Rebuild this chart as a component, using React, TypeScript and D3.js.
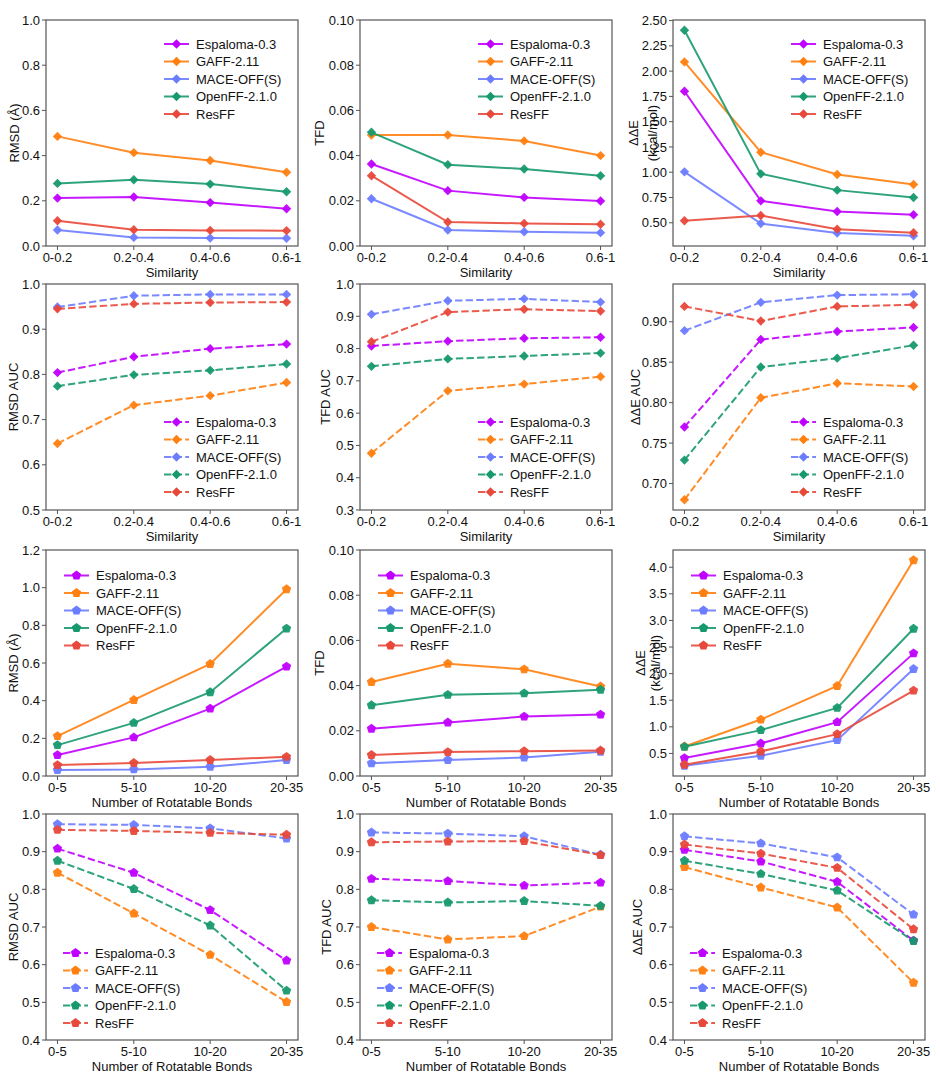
import React, { useRef, useEffect } from 'react';
import * as d3 from 'd3';

const models = ["Espaloma-0.3", "GAFF-2.11", "MACE-OFF(S)", "OpenFF-2.1.0", "ResFF"];
const modelColors = ["#c000ff", "#ff8010", "#6b7cff", "#17996e", "#e8483a"];

const similarityBins = ["0-0.2", "0.2-0.4", "0.4-0.6", "0.6-1"];
const rotatableBins = ["0-5", "5-10", "10-20", "20-35"];

// each table: one row per model, same order as `models`
const rmsdBySim = [
  [0.212, 0.217, 0.192, 0.165],
  [0.485, 0.413, 0.378, 0.326],
  [0.071, 0.038, 0.035, 0.034],
  [0.277, 0.293, 0.274, 0.240],
  [0.112, 0.072, 0.069, 0.068],
];
const tfdBySim = [
  [0.0363, 0.0245, 0.0215, 0.0199],
  [0.0491, 0.0491, 0.0465, 0.0400],
  [0.0209, 0.0071, 0.0063, 0.0059],
  [0.0503, 0.0360, 0.0341, 0.0311],
  [0.0311, 0.0106, 0.0100, 0.0096],
];
const ddeBySim = [
  [1.801, 0.717, 0.612, 0.579],
  [2.091, 1.198, 0.978, 0.879],
  [1.004, 0.493, 0.398, 0.372],
  [2.404, 0.984, 0.823, 0.750],
  [0.520, 0.572, 0.437, 0.401],
];
const rmsdAucBySim = [
  [0.804, 0.839, 0.857, 0.867],
  [0.647, 0.732, 0.753, 0.782],
  [0.949, 0.974, 0.977, 0.977],
  [0.774, 0.799, 0.809, 0.823],
  [0.945, 0.956, 0.959, 0.960],
];
const tfdAucBySim = [
  [0.808, 0.823, 0.832, 0.835],
  [0.476, 0.669, 0.690, 0.713],
  [0.906, 0.948, 0.954, 0.944],
  [0.745, 0.768, 0.777, 0.786],
  [0.821, 0.913, 0.922, 0.916],
];
const ddeAucBySim = [
  [0.770, 0.878, 0.888, 0.893],
  [0.680, 0.806, 0.824, 0.820],
  [0.889, 0.924, 0.933, 0.934],
  [0.729, 0.844, 0.855, 0.871],
  [0.919, 0.901, 0.919, 0.921],
];
const rmsdByRot = [
  [0.111, 0.205, 0.358, 0.581],
  [0.212, 0.404, 0.595, 0.992],
  [0.032, 0.035, 0.049, 0.085],
  [0.164, 0.282, 0.445, 0.783],
  [0.058, 0.069, 0.085, 0.102],
];
const tfdByRot = [
  [0.0209, 0.0237, 0.0263, 0.0272],
  [0.0416, 0.0497, 0.0472, 0.0396],
  [0.0056, 0.0071, 0.0082, 0.0107],
  [0.0313, 0.0359, 0.0366, 0.0382],
  [0.0093, 0.0106, 0.0110, 0.0113],
];
const ddeByRot = [
  [0.413, 0.688, 1.088, 2.381],
  [0.631, 1.137, 1.769, 4.131],
  [0.269, 0.456, 0.750, 2.088],
  [0.625, 0.938, 1.356, 2.844],
  [0.287, 0.538, 0.863, 1.681],
];
const rmsdAucByRot = [
  [0.908, 0.844, 0.745, 0.611],
  [0.844, 0.736, 0.626, 0.501],
  [0.973, 0.971, 0.962, 0.935],
  [0.876, 0.801, 0.704, 0.531],
  [0.958, 0.955, 0.950, 0.945],
];
const tfdAucByRot = [
  [0.828, 0.822, 0.810, 0.818],
  [0.700, 0.667, 0.676, 0.754],
  [0.951, 0.948, 0.941, 0.892],
  [0.771, 0.765, 0.769, 0.756],
  [0.925, 0.927, 0.928, 0.891],
];
const ddeAucByRot = [
  [0.905, 0.874, 0.820, 0.664],
  [0.859, 0.805, 0.752, 0.552],
  [0.941, 0.922, 0.885, 0.733],
  [0.876, 0.841, 0.797, 0.663],
  [0.919, 0.895, 0.857, 0.694],
];

const ticksRmsd = [0, 0.2, 0.4, 0.6, 0.8, 1.0];
const ticksRmsdRot = [0, 0.2, 0.4, 0.6, 0.8, 1.0, 1.2];
const ticksTfd = [0, 0.02, 0.04, 0.06, 0.08, 0.1];
const ticksDdeSim = [0.5, 0.75, 1.0, 1.25, 1.5, 1.75, 2.0, 2.25, 2.5];
const ticksDdeRot = [0.5, 1.0, 1.5, 2.0, 2.5, 3.0, 3.5, 4.0];
const ticksRmsdAuc = [0.5, 0.6, 0.7, 0.8, 0.9, 1.0];
const ticksTfdAuc = [0.3, 0.4, 0.5, 0.6, 0.7, 0.8, 0.9, 1.0];
const ticksDdeAuc = [0.7, 0.75, 0.8, 0.85, 0.9];
const ticksAucRot = [0.4, 0.5, 0.6, 0.7, 0.8, 0.9, 1.0];

const SIM = "Similarity";
const ROT = "Number of Rotatable Bonds";

type Panel = {
  row: number; col: number; data: number[][]; bins: string[]; xLabel: string;
  yLabel: string[]; labelX: number[]; domain: [number, number] | null;
  ticks: number[]; fmt: string; legend: "ur" | "lr" | "ul" | "ll";
};

const panels: Panel[] = [
  { row: 0, col: 0, data: rmsdBySim, bins: similarityBins, xLabel: SIM, yLabel: ["RMSD (Å)"], labelX: [32], domain: [0, 1], ticks: ticksRmsd, fmt: ".1f", legend: "ur" },
  { row: 0, col: 1, data: tfdBySim, bins: similarityBins, xLabel: SIM, yLabel: ["TFD"], labelX: [41], domain: [0, 0.1], ticks: ticksTfd, fmt: ".2f", legend: "ur" },
  { row: 0, col: 2, data: ddeBySim, bins: similarityBins, xLabel: SIM, yLabel: ["ΔΔE", "(kcal/mol)"], labelX: [40, 21], domain: null, ticks: ticksDdeSim, fmt: ".2f", legend: "ur" },
  { row: 1, col: 0, data: rmsdAucBySim, bins: similarityBins, xLabel: SIM, yLabel: ["RMSD AUC"], labelX: [33], domain: [0.5, 1], ticks: ticksRmsdAuc, fmt: ".1f", legend: "lr" },
  { row: 1, col: 1, data: tfdAucBySim, bins: similarityBins, xLabel: SIM, yLabel: ["TFD AUC"], labelX: [35], domain: [0.3, 1], ticks: ticksTfdAuc, fmt: ".1f", legend: "lr" },
  { row: 1, col: 2, data: ddeAucBySim, bins: similarityBins, xLabel: SIM, yLabel: ["ΔΔE AUC"], labelX: [38], domain: null, ticks: ticksDdeAuc, fmt: ".2f", legend: "lr" },
  { row: 2, col: 0, data: rmsdByRot, bins: rotatableBins, xLabel: ROT, yLabel: ["RMSD (Å)"], labelX: [33], domain: [0, 1.2], ticks: ticksRmsdRot, fmt: ".1f", legend: "ul" },
  { row: 2, col: 1, data: tfdByRot, bins: rotatableBins, xLabel: ROT, yLabel: ["TFD"], labelX: [41], domain: [0, 0.1], ticks: ticksTfd, fmt: ".2f", legend: "ul" },
  { row: 2, col: 2, data: ddeByRot, bins: rotatableBins, xLabel: ROT, yLabel: ["ΔΔE", "(kcal/mol)"], labelX: [33, 18], domain: null, ticks: ticksDdeRot, fmt: ".1f", legend: "ul" },
  { row: 3, col: 0, data: rmsdAucByRot, bins: rotatableBins, xLabel: ROT, yLabel: ["RMSD AUC"], labelX: [33], domain: [0.4, 1], ticks: ticksAucRot, fmt: ".1f", legend: "ll" },
  { row: 3, col: 1, data: tfdAucByRot, bins: rotatableBins, xLabel: ROT, yLabel: ["TFD AUC"], labelX: [34], domain: [0.4, 1], ticks: ticksAucRot, fmt: ".1f", legend: "ll" },
  { row: 3, col: 2, data: ddeAucByRot, bins: rotatableBins, xLabel: ROT, yLabel: ["ΔΔE AUC"], labelX: [36], domain: [0.4, 1], ticks: ticksAucRot, fmt: ".1f", legend: "ll" },
];

const WIDTH = 940;
const HEIGHT = 1081;
const colLeft = [46, 360, 673];
const rowTop = [20, 284, 550, 814];
const plotW = 252;
const plotH = 226;
const FONT = "Arial, 'Liberation Sans', sans-serif";
const FRAME = "#555";

// matplotlib-like markers: 'D' for similarity rows, 'p' for rotatable-bond rows
const diamond = {
  draw(ctx: any) {
    const r = 4.7;
    ctx.moveTo(0, -r); ctx.lineTo(r, 0); ctx.lineTo(0, r); ctx.lineTo(-r, 0); ctx.closePath();
  },
};
const pentagon = {
  draw(ctx: any) {
    const r = 4.9;
    for (let k = 0; k < 5; k++) {
      const a = -Math.PI / 2 + (k * 2 * Math.PI) / 5;
      if (k === 0) ctx.moveTo(r * Math.cos(a), r * Math.sin(a));
      else ctx.lineTo(r * Math.cos(a), r * Math.sin(a));
    }
    ctx.closePath();
  },
};

export default function App() {
  const svgRef = useRef<SVGSVGElement>(null);

  useEffect(() => {
    if (!svgRef.current) return;
    const svg = d3.select(svgRef.current);
    svg.selectAll("*").remove();

    svg.append("rect").attr("width", WIDTH).attr("height", HEIGHT).attr("fill", "#fff");

    panels.forEach(p => {
      const left = colLeft[p.col];
      const top = rowTop[p.row];
      const g = svg.append("g").attr("transform", `translate(${left},${top})`);
      const dashed = p.row % 2 === 1;
      const marker = p.row < 2 ? diamond : pentagon;

      let domain = p.domain;
      if (!domain) {
        const all = p.data.flat();
        const lo = d3.min(all)!, hi = d3.max(all)!;
        const m = (hi - lo) * 0.05;
        domain = [lo - m, hi + m];
      }
      const x = d3.scaleLinear().domain([-0.15, p.bins.length - 1 + 0.15]).range([0, plotW]);
      const y = d3.scaleLinear().domain(domain).range([plotH, 0]);
      const fmt = d3.format(p.fmt);

      // y ticks
      const yt = g.append("g");
      p.ticks.forEach(t => {
        const yy = y(t);
        yt.append("line").attr("x1", -4).attr("x2", 0).attr("y1", yy).attr("y2", yy)
          .attr("stroke", FRAME).attr("stroke-width", 1);
        yt.append("text").attr("x", -6).attr("y", yy).attr("dy", "0.35em")
          .attr("text-anchor", "end").attr("font-family", FONT).attr("font-size", 13)
          .attr("fill", "#111").text(fmt(t));
      });

      // x ticks
      p.bins.forEach((b, i) => {
        const xx = x(i);
        g.append("line").attr("x1", xx).attr("x2", xx).attr("y1", plotH).attr("y2", plotH + 4)
          .attr("stroke", FRAME).attr("stroke-width", 1);
        g.append("text").attr("x", xx).attr("y", plotH + 16)
          .attr("text-anchor", "middle").attr("font-family", FONT).attr("font-size", 13)
          .attr("fill", "#111").text(b);
      });

      // axis labels
      g.append("text").attr("x", plotW / 2).attr("y", plotH + 30.5)
        .attr("text-anchor", "middle").attr("font-family", FONT).attr("font-size", 13)
        .attr("fill", "#111").text(p.xLabel);
      p.yLabel.forEach((lab, k) => {
        g.append("text")
          .attr("transform", `translate(${-p.labelX[k]},${plotH / 2}) rotate(-90)`)
          .attr("dy", "0.35em").attr("text-anchor", "middle")
          .attr("font-family", FONT).attr("font-size", 13).attr("fill", "#111").text(lab);
      });

      // series
      const line = d3.line<number>().x((_, i) => x(i)).y(d => y(d));
      const sym = d3.symbol().type(marker as any);
      p.data.forEach((vals, mi) => {
        const c = modelColors[mi];
        g.append("path").attr("d", line(vals)!).attr("fill", "none")
          .attr("stroke", c).attr("stroke-width", 2).attr("stroke-opacity", 0.9)
          .attr("stroke-dasharray", dashed ? "7.4,3.2" : null);
        vals.forEach((v, i) => {
          g.append("path").attr("d", sym()!)
            .attr("transform", `translate(${x(i)},${y(v)})`)
            .attr("fill", c).attr("fill-opacity", 0.95);
        });
      });

      // frame
      g.append("rect").attr("width", plotW).attr("height", plotH)
        .attr("fill", "none").attr("stroke", FRAME).attr("stroke-width", 1.2);

      // legend
      let lx: number, ly: number;
      const step = 17.5;
      if (p.legend === "ur") { lx = plotW - 134; ly = 24; }
      else if (p.legend === "lr") { lx = plotW - 134; ly = plotH - 88; }
      else if (p.legend === "ul") { lx = 18; ly = 25.5; }
      else { lx = 17; ly = plotH - 87; }
      const lg = g.append("g").attr("transform", `translate(${lx},${ly})`);
      models.forEach((name, mi) => {
        const c = modelColors[mi];
        const yy = mi * step;
        lg.append("line").attr("x1", 0).attr("x2", 25).attr("y1", yy).attr("y2", yy)
          .attr("stroke", c).attr("stroke-width", 2).attr("stroke-opacity", 0.9)
          .attr("stroke-dasharray", dashed ? "7.4,3.2" : null);
        lg.append("path").attr("d", sym()!).attr("transform", `translate(12.5,${yy})`).attr("fill", c);
        lg.append("text").attr("x", 32).attr("y", yy).attr("dy", "0.35em")
          .attr("font-family", FONT).attr("font-size", 13).attr("fill", "#111").text(name);
      });
    });
  }, []);

  return (
    <div style={{ position: 'absolute', left: 0, top: 0 }}>
      <svg ref={svgRef} width={WIDTH} height={HEIGHT} style={{ display: 'block' }} />
    </div>
  );
}
